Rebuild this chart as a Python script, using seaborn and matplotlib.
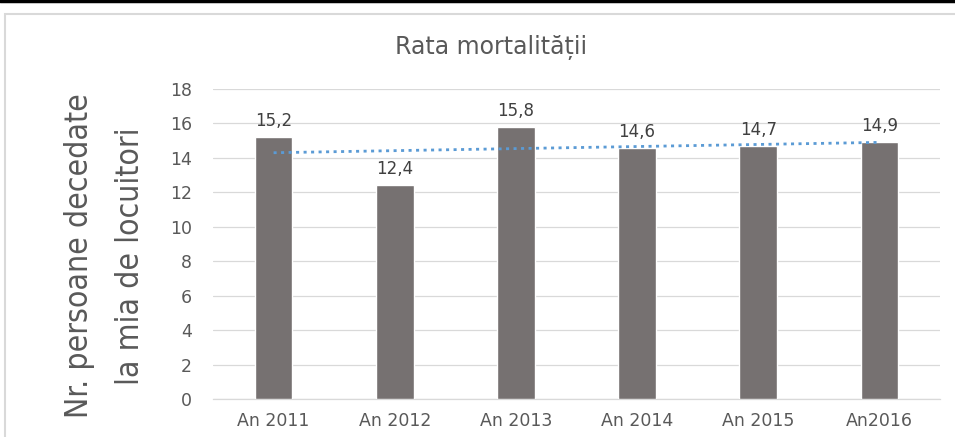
import numpy as np
import pandas as pd
import matplotlib
matplotlib.use('Agg')
import matplotlib.pyplot as plt
import seaborn as sns
from matplotlib import font_manager
from matplotlib.patches import Rectangle
from matplotlib.lines import Line2D

# data
years = ["An 2011", "An 2012", "An 2013", "An 2014", "An 2015", "An2016"]
rates = [15.2, 12.4, 15.8, 14.6, 14.7, 14.9]
y_ticks = [0, 2, 4, 6, 8, 10, 12, 14, 16, 18]

title = "Rata mortalității"
y_label = "Nr. persoane decedate\nla mia de locuitori"

sns.set_theme(style="white")
plt.rcParams['font.family'] = ['DejaVu Sans']

# a narrow font for the big axis title, if one is around
narrow = None
for f in font_manager.fontManager.ttflist:
    n = f.fname.lower()
    if ("narrow" in n or "condensed" in n) and "mono" not in n and "serif" not in n \
            and "bold" not in n and "italic" not in n and "oblique" not in n:
        narrow = f.fname
        break
if narrow:
    label_prop = font_manager.FontProperties(fname=narrow)
else:
    label_prop = font_manager.FontProperties(family=['Roboto', 'DejaVu Sans'])

df = pd.DataFrame({"an": years, "rata": rates})

fig = plt.figure(figsize=(9.55, 4.37), dpi=100)
ax = fig.add_axes([213 / 955, 1 - 399 / 437, 727 / 955, 310 / 437])

sns.barplot(data=df, x="an", y="rata", color="#767171", saturation=1,
            width=0.31, ax=ax, zorder=3)

# linear trendline, like the spreadsheet one
pos = np.arange(len(rates))
k, b = np.polyfit(pos, rates, 1)
ax.plot(pos, k * pos + b, color="#5b9bd5", lw=2, dashes=(1.1, 1.6), zorder=4)

for i, v in enumerate(rates):
    ax.annotate(f"{v:.1f}".replace(".", ","), (i, v), xytext=(0, 5),
                textcoords="offset points", ha="center", va="bottom",
                fontsize=12, color="#404040")

ax.set_ylim(0, 18)
ax.set_xlim(-0.5, len(years) - 0.5)
ax.set_yticks(y_ticks)
ax.grid(axis="y", color="#d9d9d9", lw=0.9, zorder=0)
ax.set_axisbelow(True)
for s in ["top", "right", "left"]:
    ax.spines[s].set_visible(False)
ax.spines["bottom"].set_color("#d9d9d9")
ax.spines["bottom"].set_linewidth(0.9)
ax.tick_params(axis="both", length=0, labelsize=12.5, labelcolor="#595959")
ax.tick_params(axis="y", pad=15)
ax.tick_params(axis="x", pad=9)
ax.set_xlabel("")
ax.set_ylabel("")

fig.text(491 / 955, 1 - 48 / 437, title, ha="center", va="center",
         fontsize=17, color="#595959")

ylab = fig.text(105 / 955, 1 - 256 / 437, y_label, ha="center", va="center",
                rotation=90, multialignment="center", linespacing=1.3,
                fontproperties=label_prop, fontsize=24, color="#595959")

# size the axis title so the long line runs ~325 px, lines ~58 px apart
r = fig.canvas.get_renderer()
h = ylab.get_window_extent(r).height
fs = 24 * 325 / h
ylab.set_fontsize(fs)
ylab.set_linespacing(58 / (fs * 100 / 72))

# chart frame and black top line
fig.add_artist(Rectangle((5 / 955, -0.05), 1.2, 1 - 14 / 437 + 0.05,
                         transform=fig.transFigure, fill=False,
                         edgecolor="#d9d9d9", lw=1.5))
fig.add_artist(Line2D([0, 1], [1 - 1 / 437, 1 - 1 / 437],
                      transform=fig.transFigure, color="black", lw=2.5))

fig.savefig("out.png", dpi=100)
